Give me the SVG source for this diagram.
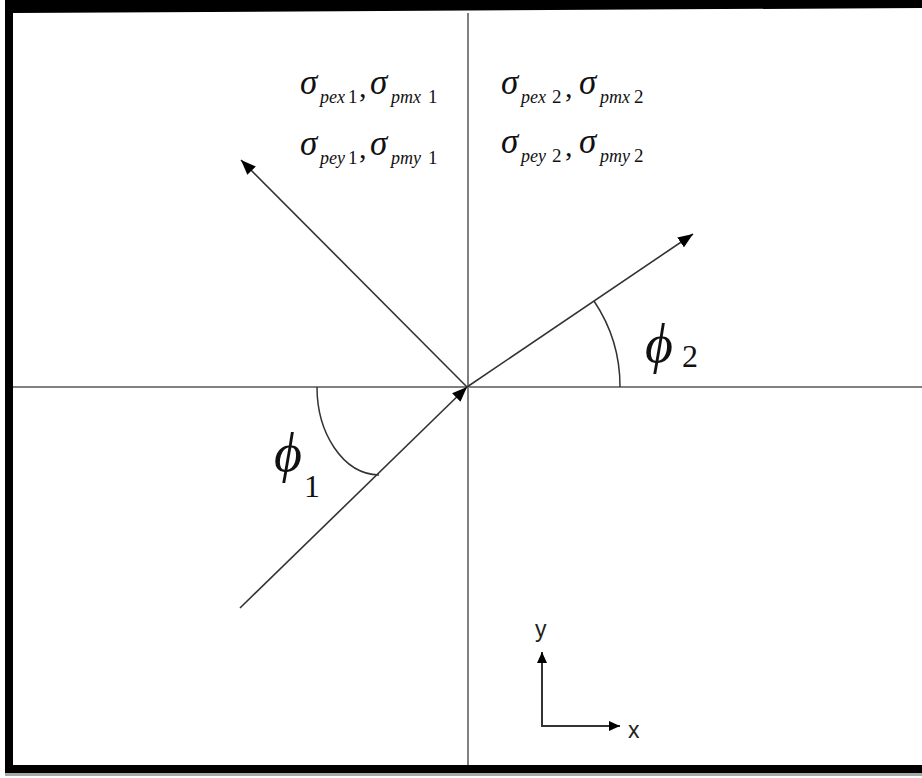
<svg xmlns="http://www.w3.org/2000/svg" width="922" height="778" viewBox="0 0 922 778">
<style>
.axis{stroke:#808080;stroke-width:2;fill:none}
.vec{stroke:#333;stroke-width:1.6;fill:none}
.arc{stroke:#333;stroke-width:1.5;fill:none}
.sig{font-family:"Liberation Serif",serif;font-style:italic;font-size:35px;fill:#111}
.sub{font-family:"Liberation Serif",serif;font-style:italic;font-size:18px;fill:#111}
.subn{font-family:"Liberation Serif",serif;font-size:19px;fill:#111}
.com{font-family:"Liberation Serif",serif;font-size:30px;fill:#111}
.phi{font-family:"Liberation Serif",serif;font-style:italic;font-size:54px;fill:#111}
.phin{font-family:"Liberation Serif",serif;font-size:32px;fill:#111}
.lab{font-family:"Liberation Sans",sans-serif;font-size:23px;fill:#222}
.mini{stroke:#333;stroke-width:2;fill:none}
</style>
<defs>
<marker id="ah" viewBox="0 0 15 12" refX="15" refY="6" markerWidth="15" markerHeight="12" markerUnits="userSpaceOnUse" orient="auto">
<path d="M0,0 L15,6 L0,12 Z" fill="#000"/>
</marker>
<marker id="ahs" viewBox="0 0 11 10" refX="11" refY="5" markerWidth="11" markerHeight="10" markerUnits="userSpaceOnUse" orient="auto">
<path d="M0,0 L11,5 L0,10 Z" fill="#000"/>
</marker>
</defs>
<rect x="0" y="0" width="922" height="778" fill="#fff"/>
<g id="frame">
<polygon points="5,0 922,0 922,8 13,13 13,765 922,765 922,773 5,773" fill="#000"/>
<rect x="5" y="773" width="917" height="3" fill="#a8a8a8"/>
</g>
<g id="connectors">
<line class="axis" x1="468" y1="13" x2="468" y2="765"/>
<line class="axis" x1="13" y1="387" x2="922" y2="387"/>
<line class="vec" x1="467" y1="387" x2="241" y2="160" marker-end="url(#ah)"/>
<line class="vec" x1="467" y1="387" x2="693" y2="234" marker-end="url(#ah)"/>
<line class="vec" x1="240" y1="608" x2="467" y2="387" marker-end="url(#ah)"/>
<path class="arc" d="M620,387 A153,153 0 0 0 594,301"/>
<path class="arc" d="M317,387 C317,432 342,474 379,475"/>
<line class="mini" x1="542" y1="726" x2="542" y2="652" marker-end="url(#ahs)"/>
<line class="mini" x1="541" y1="726" x2="620" y2="726" marker-end="url(#ahs)"/>
</g>
<g id="label-stress1">
<text class="sig" x="300" y="94">σ</text><text class="sub" x="320" y="103">pex</text><text class="subn" x="348" y="103">1</text>
<text class="com" x="359" y="97">,</text>
<text class="sig" x="370" y="94">σ</text><text class="sub" x="391" y="103">pmx</text><text class="subn" x="428" y="103">1</text>
<text class="sig" x="300" y="155">σ</text><text class="sub" x="320" y="164">pey</text><text class="subn" x="348" y="164">1</text>
<text class="com" x="359" y="158">,</text>
<text class="sig" x="370" y="155">σ</text><text class="sub" x="391" y="164">pmy</text><text class="subn" x="428" y="164">1</text>
</g>
<g id="label-stress2">
<text class="sig" x="501" y="94">σ</text><text class="sub" x="521" y="103">pex</text><text class="subn" x="552" y="103">2</text>
<text class="com" x="565" y="97">,</text>
<text class="sig" x="579" y="94">σ</text><text class="sub" x="600" y="103">pmx</text><text class="subn" x="634" y="103">2</text>
<text class="sig" x="501" y="153">σ</text><text class="sub" x="521" y="162">pey</text><text class="subn" x="552" y="162">2</text>
<text class="com" x="565" y="156">,</text>
<text class="sig" x="579" y="153">σ</text><text class="sub" x="600" y="162">pmy</text><text class="subn" x="634" y="162">2</text>
</g>
<g id="label-phi1">
<text class="phi" x="274" y="471">ϕ</text><text class="phin" x="304" y="497">1</text>
</g>
<g id="label-phi2">
<text class="phi" x="645" y="362">ϕ</text><text class="phin" x="682" y="367">2</text>
</g>
<g id="label-y"><text class="lab" x="535" y="637">y</text></g>
<g id="label-x"><text class="lab" x="628" y="738">x</text></g>
</svg>
